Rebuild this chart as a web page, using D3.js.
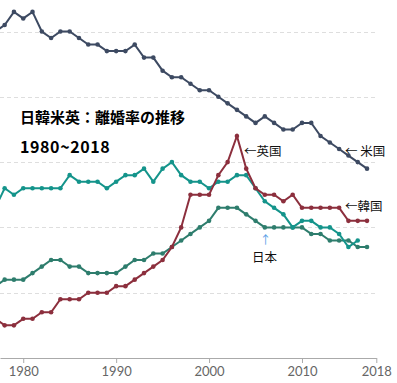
<!DOCTYPE html>
<html>
<head>
<meta charset="utf-8">
<script src="https://cdn.jsdelivr.net/npm/d3@7"></script>
<style>
  body { margin: 0; background: #fff; }
  svg { display: block; }
</style>
</head>
<body>
<div id="chart"></div>
<script>
// divorce rate per 1000 people, 1977-2017
const years = d3.range(1977, 2018);
const usa = [5.0, 5.1, 5.3, 5.2, 5.3, 5.0, 4.9, 5.0, 5.0, 4.9, 4.8, 4.8, 4.7, 4.7, 4.7, 4.8, 4.6, 4.6, 4.4, 4.3,
  4.3, 4.2, 4.1, 4.1, 4.0, 3.9, 3.8, 3.7, 3.6, 3.7, 3.6, 3.5, 3.5, 3.6, 3.6, 3.4, 3.3, 3.2, 3.1, 3.0, 2.9];
const korea = [0.6, 0.5, 0.5, 0.6, 0.6, 0.7, 0.7, 0.9, 0.9, 0.9, 1.0, 1.0, 1.0, 1.1, 1.1, 1.2, 1.3, 1.4, 1.5, 1.7,
  2.0, 2.5, 2.5, 2.5, 2.8, 3.0, 3.4, 2.9, 2.6, 2.5, 2.5, 2.4, 2.5, 2.3, 2.3, 2.3, 2.3, 2.3, 2.1, 2.1, 2.1];
const uk = [2.3, 2.6, 2.5, 2.6, 2.6, 2.6, 2.6, 2.6, 2.8, 2.7, 2.7, 2.7, 2.6, 2.7, 2.8, 2.8, 2.9, 2.7, 2.9, 3.0,
  2.8, 2.7, 2.7, 2.6, 2.7, 2.7, 2.8, 2.8, 2.6, 2.4, 2.3, 2.2, 2.0, 2.1, 2.1, 2.0, 2.0, 1.9, 1.7, 1.8];
const japan = [1.1, 1.2, 1.2, 1.2, 1.3, 1.4, 1.5, 1.5, 1.4, 1.4, 1.3, 1.3, 1.3, 1.3, 1.4, 1.5, 1.5, 1.6, 1.6, 1.7,
  1.8, 1.9, 2.0, 2.1, 2.3, 2.3, 2.3, 2.2, 2.1, 2.0, 2.0, 2.0, 2.0, 2.0, 1.9, 1.9, 1.8, 1.8, 1.8, 1.7, 1.7];
const gridValues = [1, 2, 3, 4, 5];
const tickYears = [1980, 1990, 2000, 2010, 2018];

const series = [
  { name: 'japan', values: japan, color: '#2e7d6d' },
  { name: 'uk', values: uk, color: '#14948b' },
  { name: 'korea', values: korea, color: '#8c2f3d' },
  { name: 'usa', values: usa, color: '#3d4a62' }
];

const W = 397, H = 383;

const svg = d3.select('#chart').append('svg')
  .attr('width', W)
  .attr('height', H);

// the plot is panned: left edge is mid 1977
const x = d3.scaleLinear().domain([1977.5, 2018]).range([0, 376.3]);
const y = d3.scaleLinear().domain([0, 5]).range([358, 31.5]);

svg.append('g')
  .selectAll('line')
  .data(gridValues)
  .enter().append('line')
  .attr('x1', 0)
  .attr('x2', x(2018))
  .attr('y1', d => Math.round(y(d)) + 0.5)
  .attr('y2', d => Math.round(y(d)) + 0.5)
  .attr('stroke', '#dedede')
  .attr('stroke-dasharray', '4,3');

const xAxis = d3.axisBottom(x)
  .tickValues(tickYears)
  .tickFormat(d => d)
  .tickSize(5)
  .tickSizeOuter(0)
  .tickPadding(4);

const ax = svg.append('g')
  .attr('transform', 'translate(0,358)')
  .call(xAxis);
ax.select('.domain').attr('stroke', '#aaa');
ax.selectAll('.tick line').attr('stroke', '#aaa');
ax.selectAll('.tick text')
  .attr('fill', '#666')
  .attr('font-size', 13)
  .attr('font-family', 'Lato');

const lineGen = d3.line()
  .x((d, i) => x(years[i]))
  .y(d => y(d));

const lines = svg.append('g');
series.forEach(s => {
  const g = lines.append('g');
  g.append('path')
    .attr('d', lineGen(s.values))
    .attr('fill', 'none')
    .attr('stroke', s.color)
    .attr('stroke-width', 2);
  g.selectAll('circle')
    .data(s.values)
    .enter().append('circle')
    .attr('cx', (d, i) => x(years[i]))
    .attr('cy', d => y(d))
    .attr('r', 2.3)
    .attr('fill', s.color);
});

const jp = '"Noto Sans CJK JP", sans-serif';

svg.append('text')
  .attr('x', 20).attr('y', 122.5)
  .attr('font-family', jp).attr('font-weight', 'bold').attr('font-size', 15)
  .text('日韓米英：離婚率の推移');
svg.append('text')
  .attr('x', 20).attr('y', 153)
  .attr('font-family', jp).attr('font-weight', 'bold').attr('font-size', 16)
  .attr('letter-spacing', 0.6)
  .text('1980~2018');

const labels = [
  { text: '←英国', x: 244, y: 156 },
  { text: '← 米国', x: 345, y: 156 },
  { text: '←韓国', x: 345, y: 210.5 },
  { text: '日本', x: 252, y: 261.5 }
];
svg.append('g')
  .selectAll('text')
  .data(labels)
  .enter().append('text')
  .attr('x', d => d.x).attr('y', d => d.y)
  .attr('font-family', jp).attr('font-size', 12.5)
  .attr('fill', '#111')
  .text(d => d.text);

svg.append('text')
  .attr('x', 265.5).attr('y', 243.5)
  .attr('text-anchor', 'middle')
  .attr('font-family', jp).attr('font-size', 11.5)
  .attr('fill', '#5aa0e6')
  .text('↑');
</script>
</body>
</html>
